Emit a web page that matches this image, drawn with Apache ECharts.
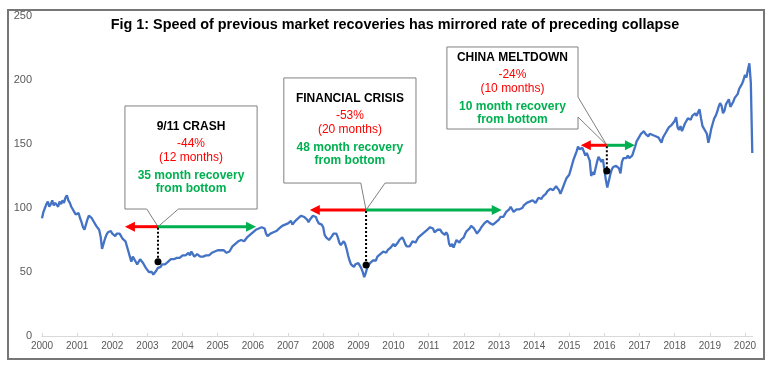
<!DOCTYPE html>
<html><head><meta charset="utf-8">
<script src="https://cdn.jsdelivr.net/npm/echarts/dist/echarts.min.js"></script>
<style>html,body{margin:0;padding:0;background:#fff}#c{width:770px;height:370px}</style>
</head><body><div id="c"></div>
<script>
// ---------- DATA ----------
const titleText = 'Fig 1: Speed of previous market recoveries has mirrored rate of preceding collapse';
const startYear = 2000;   // first value = start of Jan 2000
const pointsPerYear = 24; // two readings per month (1st and mid-month)
const seriesValues = [
  92,97,100,103,105,101,103,106,102,104,104,101,105,103,106,104,108,110,106,104,101,99,97,95,   // 2000
  94,96,92,89,85,83,87,91,94,95,92,90,89,86,85,83,78,68,72,76,79,81,80,82,                      // 2001
  80,79,78,80,81,80,78,76,75,74,70,66,62,58,62,61,58,56,57,60,59,57,56,53,                      // 2002
  52,50,49,50,48,47,51,53,52,54,56,55,56,57,58,58,60,59,60,61,61,60,61,62,                      // 2003
  63,64,63,64,65,63,66,64,62,63,64,63,62,61,62,63,63,64,63,64,65,66,66,67,                      // 2004
  67,66,67,68,67,66,65,64,66,68,70,71,72,73,74,73,75,76,74,75,77,78,79,80,                      // 2005
  81,82,83,82,84,83,85,86,84,80,78,79,80,79,81,82,82,83,84,85,86,85,87,88,                      // 2006
  88,89,90,87,88,90,91,92,93,94,95,93,94,91,89,91,92,94,95,93,90,88,89,87,                      // 2007
  85,79,77,78,75,76,78,80,81,80,77,73,71,72,74,72,68,63,59,56,57,54,56,57,                      // 2008
  57,55,53,50,46,49,53,55,57,58,59,58,59,62,63,64,65,66,66,65,67,68,69,70,                      // 2009
  72,70,71,73,75,76,77,75,72,70,71,70,72,74,75,73,75,77,78,79,80,81,82,83,                      // 2010
  84,85,85,84,81,82,83,84,83,81,80,79,81,79,72,70,72,69,72,75,74,73,75,76,                      // 2011
  77,80,82,83,84,86,85,84,82,80,81,83,85,86,88,89,90,89,88,87,87,88,89,90,                      // 2012
  91,93,94,93,95,97,97,99,101,102,97,96,99,100,99,98,100,102,103,104,104,105,104,106,           // 2013
  106,104,106,108,108,107,109,110,111,113,114,115,116,114,115,117,116,114,111,114,117,120,123,122, // 2014
  126,130,134,138,141,144,148,146,145,147,144,141,143,140,137,125,128,126,131,136,140,138,136,138, // 2015
  130,122,116,121,126,130,132,131,133,134,131,127,136,139,140,139,141,139,140,141,142,148,152,154, // 2016
  156,158,159,160,158,157,156,158,159,157,158,156,157,155,154,151,155,157,159,161,163,162,165,166, // 2017
  168,171,163,161,164,160,163,166,168,170,171,169,172,173,174,172,175,177,170,164,162,160,158,151, // 2018
  156,162,166,170,172,175,179,182,180,174,176,181,183,185,179,181,183,186,185,189,193,195,197,200, // 2019
  204,202,208,213,198,143                                                                        // 2020
];
const xAxisRange = [2000, 2020.22];
const yearLabelStep = 1;
const valueTicks = [0, 250, 50];

const eventNames = ['9/11 CRASH', 'FINANCIAL CRISIS', 'CHINA MELTDOWN'];
const eventDrops = ['-44%', '-53%', '-24%'];
const eventFallText = ['(12 months)', '(20 months)', '(10 months)'];
const eventRecoveryText = ['35 month recovery', '48 month recovery', '10 month recovery'];
const eventRecoveryText2 = ['from bottom', 'from bottom', 'from bottom'];
const eventBottomDates = [2003.30, 2009.22, 2016.07];
const eventArrowLevels = [85.4, 98.4, 149];
const eventDotValues = [58, 55.5, 129];
const eventPeakDates = [2002.36, 2007.62, 2015.33];
const eventRecoveredDates = [2006.09, 2013.08, 2016.87];

// ---------- LAYOUT (callout boxes, in axis units) ----------
const calloutLayout = [
  {box: [2002.36, 179.7, 2006.12, 99.2], side: 'bottom', base: [2002.98, 2003.88], titleY: 163.3},
  {box: [2006.88, 201.6, 2010.64, 119.5], side: 'bottom', base: [2009.07, 2009.76], titleY: 185.2},
  {box: [2011.52, 225.8, 2015.25, 161.7], side: 'right', base: [186.7, 171.1], titleY: 217.2}
];

const FONT = '"Liberation Sans", Arial, sans-serif';
const lineData = seriesValues.map((v, i) => [startYear + i / pointsPerYear, v]);

function txt(x, y, s, font, color) {
  return {type: 'text', x: x, y: y, silent: true,
    style: {text: s, font: font, fill: color, align: 'center', verticalAlign: 'middle',
            textAlign: 'center', textVerticalAlign: 'middle'}};
}

function renderCallout(params, api) {
  const i = params.dataIndex;
  const L = calloutLayout[i];
  const tip = api.coord([eventBottomDates[i], eventArrowLevels[i]]);
  const tl = api.coord([L.box[0], L.box[1]]);
  const br = api.coord([L.box[2], L.box[3]]);
  const left = tl[0], top = tl[1], right = br[0], bottom = br[1];
  let pts;
  if (L.side === 'bottom') {
    const b0 = api.coord([L.base[0], L.box[3]])[0];
    const b1 = api.coord([L.base[1], L.box[3]])[0];
    pts = [[left, top], [right, top], [right, bottom], [b1, bottom], tip, [b0, bottom], [left, bottom]];
  } else {
    const b0 = api.coord([L.box[2], L.base[0]])[1];
    const b1 = api.coord([L.box[2], L.base[1]])[1];
    pts = [[left, top], [right, top], [right, b0], tip, [right, b1], [right, bottom], [left, bottom]];
  }
  const cx = (left + right) / 2;
  const ty = api.coord([L.box[0], L.titleY])[1];
  const xs = api.coord([eventPeakDates[i], 0])[0];
  const xe = api.coord([eventRecoveredDates[i], 0])[0];
  const dot = api.coord([eventBottomDates[i], eventDotValues[i]]);
  const y = tip[1];
  const red = '#ff0000', green = '#00b050';
  return {type: 'group', children: [
    {type: 'polygon', shape: {points: pts}, style: {fill: '#ffffff', stroke: '#808080', lineWidth: 1}},
    txt(cx, ty, eventNames[i], 'bold 12px ' + FONT, '#000'),
    txt(cx, ty + 17, eventDrops[i], '12px ' + FONT, red),
    txt(cx, ty + 31, eventFallText[i], '12px ' + FONT, red),
    txt(cx, ty + 49, eventRecoveryText[i], 'bold 12px ' + FONT, green),
    txt(cx, ty + 62, eventRecoveryText2[i], 'bold 12px ' + FONT, green),
    {type: 'line', shape: {x1: tip[0], y1: y, x2: xs + 8, y2: y}, style: {stroke: red, lineWidth: 3}},
    {type: 'polygon', shape: {points: [[xs, y], [xs + 10, y - 5], [xs + 10, y + 5]]}, style: {fill: red}},
    {type: 'line', shape: {x1: tip[0], y1: y, x2: xe - 8, y2: y}, style: {stroke: green, lineWidth: 3}},
    {type: 'polygon', shape: {points: [[xe, y], [xe - 10, y - 5], [xe - 10, y + 5]]}, style: {fill: green}},
    {type: 'line', shape: {x1: tip[0], y1: y + 1, x2: dot[0], y2: dot[1]}, style: {stroke: '#000', lineWidth: 2, lineDash: [2, 2]}},
    {type: 'circle', shape: {cx: dot[0], cy: dot[1], r: 3.5}, style: {fill: '#000'}}
  ]};
}

const chart = echarts.init(document.getElementById('c'), null, {renderer: 'canvas'});
chart.setOption({
  animation: false,
  backgroundColor: '#ffffff',
  title: {text: titleText, left: 390, textAlign: 'center', top: 13,
    textStyle: {fontFamily: FONT, fontWeight: 'bold', fontSize: 14.4, color: '#000'}},
  graphic: [{type: 'rect', shape: {x: 8, y: 10, width: 756, height: 349},
    style: {fill: 'none', stroke: '#767676', lineWidth: 2}, silent: true, z: 100}],
  grid: {left: 42, right: 17.3, top: 16, bottom: 34, containLabel: false},
  xAxis: {type: 'value', min: xAxisRange[0], max: xAxisRange[1], interval: yearLabelStep,
    axisLine: {show: true, lineStyle: {color: '#d9d9d9', width: 1}},
    axisTick: {show: true, inside: true, length: 3, lineStyle: {color: '#d9d9d9'}},
    splitLine: {show: false},
    axisLabel: {color: '#595959', fontFamily: FONT, fontSize: 10, margin: 5, showMaxLabel: false,
      formatter: v => (Math.abs(v - Math.round(v)) < 1e-6 ? String(Math.round(v)) : '')}},
  yAxis: {type: 'value', min: valueTicks[0], max: valueTicks[1], interval: valueTicks[2],
    axisLine: {show: false}, axisTick: {show: false}, splitLine: {show: false},
    axisLabel: {color: '#595959', fontFamily: FONT, fontSize: 11, margin: 10}},
  series: [
    {type: 'line', data: lineData, showSymbol: false, z: 2,
      lineStyle: {color: '#4472c4', width: 2.3}},
    {type: 'custom', data: [[eventBottomDates[0], eventArrowLevels[0]], [eventBottomDates[1], eventArrowLevels[1]], [eventBottomDates[2], eventArrowLevels[2]]],
      renderItem: renderCallout, z: 5, clip: false, silent: true}
  ]
});
</script></body></html>
